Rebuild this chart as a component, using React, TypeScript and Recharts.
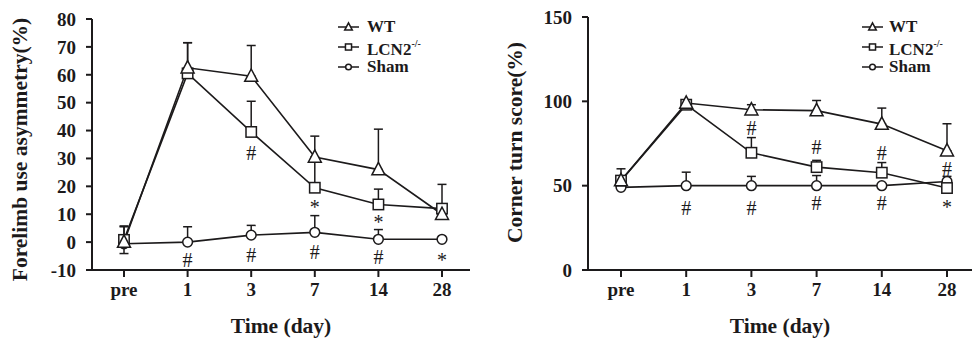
import React from 'react';
import { LineChart, Line, XAxis, YAxis, ErrorBar, Legend } from 'recharts';

const days = ['pre', '1', '3', '7', '14', '28'];

// left panel: forelimb use asymmetry (%)
const forelimbWT = [0, 62.5, 59.5, 30.5, 26, 10];
const forelimbWTErr = [5.5, 9, 11, 7.5, 14.5, 0];
const forelimbKO = [0.8, 60.5, 39.5, 19.5, 13.5, 12];
const forelimbKOErr = [5, 11, 11, 10, 5.5, 8.7];
const forelimbSham = [-0.6, 0, 2.5, 3.5, 1, 1];
const forelimbShamErrUp = [0, 5.5, 3.5, 6, 3.5, 0];
const forelimbShamErrDown = [3.5, 0, 0, 0, 0, 0];
const forelimbMarkHi = [null, null, 31.8, 13.9, 8.5, null];
const forelimbMarkHiSym = ['', '', '#', '*', '*', ''];
const forelimbMarkLo = [null, -6.5, -4.7, -3.5, -5.5, -5];
const forelimbMarkLoSym = ['', '#', '#', '#', '#', '*'];
const forelimbTicks = [-10, 0, 10, 20, 30, 40, 50, 60, 70, 80];

// right panel: corner turn score (%)
const cornerWT = [53, 99, 95, 94.5, 86.5, 70.7];
const cornerWTErr = [7, 0, 3, 6, 9.5, 16];
const cornerKO = [53, 98, 69.5, 61, 57.7, 48.6];
const cornerKOErr = [0, 0, 9, 4, 6, 0];
const cornerSham = [49, 50, 50, 50, 50, 52.5];
const cornerShamErr = [0, 8, 5.5, 6, 0, 3];
const cornerMarkHi = [null, null, 84, 72.7, 69.5, 60];
const cornerMarkHiSym = ['', '', '#', '#', '#', '#'];
const cornerMarkLo = [null, 36.7, 36.7, 40, 40, 40];
const cornerMarkLoSym = ['', '#', '#', '#', '#', '*'];
const cornerTicks = [0, 50, 100, 150];

const INK = '#1c1a1b';
const FONT = "'Liberation Serif', 'Times New Roman', serif";

const forelimbData = days.map((d, i) => ({
  day: d,
  wt: forelimbWT[i],
  wtErr: [0, forelimbWTErr[i]],
  ko: forelimbKO[i],
  koErr: [0, forelimbKOErr[i]],
  sham: forelimbSham[i],
  shamErr: [forelimbShamErrDown[i], forelimbShamErrUp[i]],
  hi: forelimbMarkHi[i],
  lo: forelimbMarkLo[i],
}));

const cornerData = days.map((d, i) => ({
  day: d,
  wt: cornerWT[i],
  wtErr: [0, cornerWTErr[i]],
  ko: cornerKO[i],
  koErr: [0, cornerKOErr[i]],
  sham: cornerSham[i],
  shamErr: [0, cornerShamErr[i]],
  hi: cornerMarkHi[i],
  lo: cornerMarkLo[i],
}));

type Shape = 'tri' | 'sq' | 'circ';

function markerEl(shape: Shape, cx: number, cy: number, s: number, key?: string) {
  if (shape === 'tri') {
    const pts = `${cx},${cy - s * 1.1} ${cx - s},${cy + s * 0.8} ${cx + s},${cy + s * 0.8}`;
    return <polygon key={key} points={pts} fill="#fff" stroke={INK} strokeWidth={1.5} />;
  }
  if (shape === 'sq') {
    return <rect key={key} x={cx - s * 0.8} y={cy - s * 0.8} width={s * 1.6} height={s * 1.6} fill="#fff" stroke={INK} strokeWidth={1.5} />;
  }
  return <circle key={key} cx={cx} cy={cy} r={s * 0.75} fill="#fff" stroke={INK} strokeWidth={1.5} />;
}

const dotOf = (shape: Shape) => (p: any) => {
  const k = `${shape}-${p.index}`;
  if (p.cx == null || p.cy == null || p.value == null) return <g key={k} />;
  return markerEl(shape, p.cx, p.cy, 6.5, k);
};

const symbolDot = (syms: string[], tag: string) => (p: any) => {
  const k = `${tag}-${p.index}`;
  const s = syms[p.index];
  if (p.cx == null || p.cy == null || !s) return <g key={k} />;
  return (
    <text key={k} x={p.cx} y={p.cy} dy={s === '*' ? 4 : 0} textAnchor="middle" dominantBaseline="central"
      fontFamily={FONT} fontSize={s === '*' ? 20 : 20} fill={INK}>
      {s}
    </text>
  );
};

const legendRows: { shape: Shape; label: React.ReactNode }[] = [
  { shape: 'tri', label: 'WT' },
  { shape: 'sq', label: <>LCN2<sup style={{ fontSize: 10, position: 'relative', top: -1 }}>-/-</sup></> },
  { shape: 'circ', label: 'Sham' },
];

const LegendBox = ({ gap }: { gap: number }) => (
  <div style={{ fontFamily: FONT, fontWeight: 'bold', fontSize: 17, color: INK }}>
    {legendRows.map((r, i) => (
      <div key={i} style={{ display: 'flex', alignItems: 'center', height: 20 }}>
        <svg width={21} height={14}>
          <line x1={0} x2={21} y1={7} y2={7} stroke={INK} strokeWidth={1.5} />
          {markerEl(r.shape, 10.5, 7, 3.8)}
        </svg>
        <span style={{ marginLeft: gap, lineHeight: '20px' }}>{r.label}</span>
      </div>
    ))}
  </div>
);

type PanelProps = {
  data: any[];
  width: number;
  yWidth: number;
  top: number;
  right: number;
  domain: [number, number];
  ticks: number[];
  pad: { left: number; right: number };
  yTitle: string;
  yTitleX: number;
  yTitleShift: number;
  hiSyms: string[];
  loSyms: string[];
  legendLeft: number;
  legendGap: number;
};

function Panel(p: PanelProps) {
  const tickStyle = { fontFamily: FONT, fontWeight: 'bold', fontSize: 19, fill: INK };
  return (
    <LineChart width={p.width} height={341} data={p.data} margin={{ top: p.top, right: p.right, bottom: 0, left: 0 }}>
      <XAxis dataKey="day" height={71} padding={p.pad} tickSize={7} tickMargin={6}
        axisLine={{ stroke: INK, strokeWidth: 2 }} tickLine={{ stroke: INK, strokeWidth: 2 }} tick={tickStyle}
        label={{
          content: ({ viewBox }: any) => (
            <text x={viewBox.x + viewBox.width / 2} y={viewBox.y + 56} textAnchor="middle" dominantBaseline="central"
              fontFamily={FONT} fontWeight="bold" fontSize={21.5} fill={INK}>Time (day)</text>
          ),
        }} />
      <YAxis width={p.yWidth} domain={p.domain} ticks={p.ticks} interval={0} tickSize={6} tickMargin={10}
        axisLine={{ stroke: INK, strokeWidth: 2 }} tickLine={{ stroke: INK, strokeWidth: 2 }} tick={tickStyle}
        label={{
          content: ({ viewBox }: any) => {
            const x = viewBox.x + p.yTitleX;
            const y = viewBox.y + viewBox.height / 2 + p.yTitleShift;
            return (
              <text x={x} y={y} transform={`rotate(-90 ${x} ${y})`} textAnchor="middle" dominantBaseline="central"
                fontFamily={FONT} fontWeight="bold" fontSize={21.5} fill={INK}>{p.yTitle}</text>
            );
          },
        }} />
      <Legend layout="vertical" align="center" verticalAlign="middle"
        wrapperStyle={{ left: p.legendLeft, top: 17, width: 130 }}
        content={() => <LegendBox gap={p.legendGap} />} />
      <Line dataKey="sham" stroke={INK} strokeWidth={1.6} dot={dotOf('circ')} activeDot={false} isAnimationActive={false}>
        <ErrorBar dataKey="shamErr" width={4.5} stroke={INK} strokeWidth={1.5} />
      </Line>
      <Line dataKey="ko" stroke={INK} strokeWidth={1.6} dot={dotOf('sq')} activeDot={false} isAnimationActive={false}>
        <ErrorBar dataKey="koErr" width={4.5} stroke={INK} strokeWidth={1.5} />
      </Line>
      <Line dataKey="wt" stroke={INK} strokeWidth={1.6} dot={dotOf('tri')} activeDot={false} isAnimationActive={false}>
        <ErrorBar dataKey="wtErr" width={4.5} stroke={INK} strokeWidth={1.5} />
      </Line>
      <Line dataKey="hi" stroke="none" legendType="none" dot={symbolDot(p.hiSyms, 'hi')} activeDot={false} isAnimationActive={false} />
      <Line dataKey="lo" stroke="none" legendType="none" dot={symbolDot(p.loSyms, 'lo')} activeDot={false} isAnimationActive={false} />
    </LineChart>
  );
}

export default function App() {
  return (
    <div style={{ position: 'absolute', left: 0, top: 0, width: 973, height: 341, background: '#fff' }}>
      <div style={{ position: 'absolute', left: 0, top: 0 }}>
        <Panel data={forelimbData} width={480} yWidth={92} top={19} right={10} domain={[-10, 80]} ticks={forelimbTicks}
          pad={{ left: 32, right: 28 }} yTitle="Forelimb use asymmetry(%)" yTitleX={20} yTitleShift={5}
          hiSyms={forelimbMarkHiSym} loSyms={forelimbMarkLoSym} legendLeft={338} legendGap={8} />
      </div>
      <div style={{ position: 'absolute', left: 490, top: 0 }}>
        <Panel data={cornerData} width={483} yWidth={98} top={17} right={1} domain={[0, 150]} ticks={cornerTicks}
          pad={{ left: 33, right: 25 }} yTitle="Corner turn score(%)" yTitleX={25} yTitleShift={-1}
          hiSyms={cornerMarkHiSym} loSyms={cornerMarkLoSym} legendLeft={372} legendGap={6} />
      </div>
    </div>
  );
}
